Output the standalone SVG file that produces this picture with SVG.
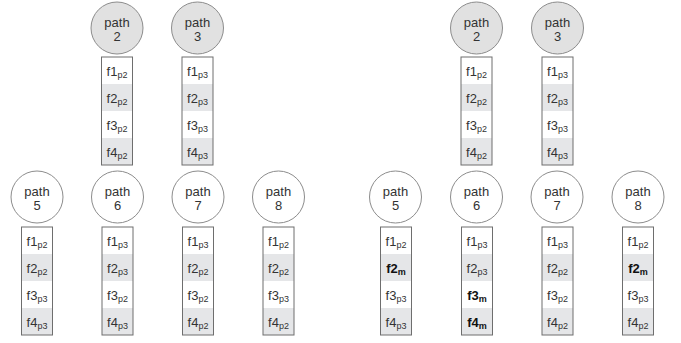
<svg xmlns="http://www.w3.org/2000/svg" width="681" height="343" viewBox="0 0 681 343">
  <style>
    .circ { stroke: #8c8c8c; stroke-width: 1; }
    .shade { fill: #e1e1e1; }
    .plain { fill: #ffffff; }
    .row-a { fill: #ffffff; }
    .row-b { fill: #e5e6e8; }
    .frame { fill: none; stroke: #6e6e6e; stroke-width: 1; }
    text { font-family: "Liberation Sans", Arial, sans-serif; fill: #333; text-anchor: middle; }
    .lbl { font-size: 13px; }
    .fld { font-size: 13px; }
    .sub { font-size: 9px; }
    .bold { font-weight: bold; fill: #111; }
  </style>
  <defs>
    <!-- field stack: four rows, 31 x 108 -->
    <g id="stack">
      <rect class="row-a" x="0" y="0" width="31" height="27"/>
      <rect class="row-b" x="0" y="27" width="31" height="27"/>
      <rect class="row-a" x="0" y="54" width="31" height="27"/>
      <rect class="row-b" x="0" y="81" width="31" height="27"/>
      <rect class="frame" x="0" y="0" width="31" height="108"/>
    </g>
  </defs>

  <!-- left group: upper paths -->
  <g id="L-path2">
    <circle class="circ shade" cx="117" cy="28" r="26"/>
    <text class="lbl" x="117" y="27">path</text><text class="lbl" x="117" y="41">2</text>
    <use href="#stack" x="101.5" y="57"/>
    <text class="fld" x="117" y="76">f1<tspan class="sub" dy="2">p2</tspan></text>
    <text class="fld" x="117" y="103">f2<tspan class="sub" dy="2">p2</tspan></text>
    <text class="fld" x="117" y="130">f3<tspan class="sub" dy="2">p2</tspan></text>
    <text class="fld" x="117" y="157">f4<tspan class="sub" dy="2">p2</tspan></text>
  </g>
  <g id="L-path3">
    <circle class="circ shade" cx="197.5" cy="28" r="26"/>
    <text class="lbl" x="197.5" y="27">path</text><text class="lbl" x="197.5" y="41">3</text>
    <use href="#stack" x="182" y="57"/>
    <text class="fld" x="197.5" y="76">f1<tspan class="sub" dy="2">p3</tspan></text>
    <text class="fld" x="197.5" y="103">f2<tspan class="sub" dy="2">p3</tspan></text>
    <text class="fld" x="197.5" y="130">f3<tspan class="sub" dy="2">p3</tspan></text>
    <text class="fld" x="197.5" y="157">f4<tspan class="sub" dy="2">p3</tspan></text>
  </g>

  <!-- left group: lower paths -->
  <g id="L-path5">
    <circle class="circ plain" cx="37" cy="197" r="26"/>
    <text class="lbl" x="37" y="196">path</text><text class="lbl" x="37" y="210">5</text>
    <use href="#stack" x="21.5" y="227"/>
    <text class="fld" x="37" y="246">f1<tspan class="sub" dy="2">p2</tspan></text>
    <text class="fld" x="37" y="273">f2<tspan class="sub" dy="2">p2</tspan></text>
    <text class="fld" x="37" y="300">f3<tspan class="sub" dy="2">p3</tspan></text>
    <text class="fld" x="37" y="327">f4<tspan class="sub" dy="2">p3</tspan></text>
  </g>
  <g id="L-path6">
    <circle class="circ plain" cx="117.5" cy="197" r="26"/>
    <text class="lbl" x="117.5" y="196">path</text><text class="lbl" x="117.5" y="210">6</text>
    <use href="#stack" x="102" y="227"/>
    <text class="fld" x="117.5" y="246">f1<tspan class="sub" dy="2">p3</tspan></text>
    <text class="fld" x="117.5" y="273">f2<tspan class="sub" dy="2">p3</tspan></text>
    <text class="fld" x="117.5" y="300">f3<tspan class="sub" dy="2">p2</tspan></text>
    <text class="fld" x="117.5" y="327">f4<tspan class="sub" dy="2">p3</tspan></text>
  </g>
  <g id="L-path7">
    <circle class="circ plain" cx="198" cy="197" r="26"/>
    <text class="lbl" x="198" y="196">path</text><text class="lbl" x="198" y="210">7</text>
    <use href="#stack" x="182.5" y="227"/>
    <text class="fld" x="198" y="246">f1<tspan class="sub" dy="2">p3</tspan></text>
    <text class="fld" x="198" y="273">f2<tspan class="sub" dy="2">p2</tspan></text>
    <text class="fld" x="198" y="300">f3<tspan class="sub" dy="2">p2</tspan></text>
    <text class="fld" x="198" y="327">f4<tspan class="sub" dy="2">p2</tspan></text>
  </g>
  <g id="L-path8">
    <circle class="circ plain" cx="278.5" cy="197" r="26"/>
    <text class="lbl" x="278.5" y="196">path</text><text class="lbl" x="278.5" y="210">8</text>
    <use href="#stack" x="263" y="227"/>
    <text class="fld" x="278.5" y="246">f1<tspan class="sub" dy="2">p2</tspan></text>
    <text class="fld" x="278.5" y="273">f2<tspan class="sub" dy="2">p2</tspan></text>
    <text class="fld" x="278.5" y="300">f3<tspan class="sub" dy="2">p3</tspan></text>
    <text class="fld" x="278.5" y="327">f4<tspan class="sub" dy="2">p2</tspan></text>
  </g>

  <!-- right group: upper paths -->
  <g id="R-path2">
    <circle class="circ shade" cx="476.5" cy="28" r="26"/>
    <text class="lbl" x="476.5" y="27">path</text><text class="lbl" x="476.5" y="41">2</text>
    <use href="#stack" x="461" y="57"/>
    <text class="fld" x="476.5" y="76">f1<tspan class="sub" dy="2">p2</tspan></text>
    <text class="fld" x="476.5" y="103">f2<tspan class="sub" dy="2">p2</tspan></text>
    <text class="fld" x="476.5" y="130">f3<tspan class="sub" dy="2">p2</tspan></text>
    <text class="fld" x="476.5" y="157">f4<tspan class="sub" dy="2">p2</tspan></text>
  </g>
  <g id="R-path3">
    <circle class="circ shade" cx="557.5" cy="28" r="26"/>
    <text class="lbl" x="557.5" y="27">path</text><text class="lbl" x="557.5" y="41">3</text>
    <use href="#stack" x="542" y="57"/>
    <text class="fld" x="557.5" y="76">f1<tspan class="sub" dy="2">p3</tspan></text>
    <text class="fld" x="557.5" y="103">f2<tspan class="sub" dy="2">p3</tspan></text>
    <text class="fld" x="557.5" y="130">f3<tspan class="sub" dy="2">p3</tspan></text>
    <text class="fld" x="557.5" y="157">f4<tspan class="sub" dy="2">p3</tspan></text>
  </g>

  <!-- right group: lower paths with merged fields -->
  <g id="R-path5">
    <circle class="circ plain" cx="395.5" cy="197" r="26"/>
    <text class="lbl" x="395.5" y="196">path</text><text class="lbl" x="395.5" y="210">5</text>
    <use href="#stack" x="380.5" y="227"/>
    <text class="fld" x="396" y="246">f1<tspan class="sub" dy="2">p2</tspan></text>
    <text class="fld bold" x="396" y="273">f2<tspan class="sub" dy="2">m</tspan></text>
    <text class="fld" x="396" y="300">f3<tspan class="sub" dy="2">p3</tspan></text>
    <text class="fld" x="396" y="327">f4<tspan class="sub" dy="2">p3</tspan></text>
  </g>
  <g id="R-path6">
    <circle class="circ plain" cx="476.5" cy="197" r="26"/>
    <text class="lbl" x="476.5" y="196">path</text><text class="lbl" x="476.5" y="210">6</text>
    <use href="#stack" x="461.5" y="227"/>
    <text class="fld" x="477" y="246">f1<tspan class="sub" dy="2">p3</tspan></text>
    <text class="fld" x="477" y="273">f2<tspan class="sub" dy="2">p3</tspan></text>
    <text class="fld bold" x="477" y="300">f3<tspan class="sub" dy="2">m</tspan></text>
    <text class="fld bold" x="477" y="327">f4<tspan class="sub" dy="2">m</tspan></text>
  </g>
  <g id="R-path7">
    <circle class="circ plain" cx="557" cy="197" r="26"/>
    <text class="lbl" x="557" y="196">path</text><text class="lbl" x="557" y="210">7</text>
    <use href="#stack" x="542" y="227"/>
    <text class="fld" x="557.5" y="246">f1<tspan class="sub" dy="2">p3</tspan></text>
    <text class="fld" x="557.5" y="273">f2<tspan class="sub" dy="2">p2</tspan></text>
    <text class="fld" x="557.5" y="300">f3<tspan class="sub" dy="2">p2</tspan></text>
    <text class="fld" x="557.5" y="327">f4<tspan class="sub" dy="2">p2</tspan></text>
  </g>
  <g id="R-path8">
    <circle class="circ plain" cx="638" cy="197" r="26"/>
    <text class="lbl" x="638" y="196">path</text><text class="lbl" x="638" y="210">8</text>
    <use href="#stack" x="622.5" y="227"/>
    <text class="fld" x="638" y="246">f1<tspan class="sub" dy="2">p2</tspan></text>
    <text class="fld bold" x="638" y="273">f2<tspan class="sub" dy="2">m</tspan></text>
    <text class="fld" x="638" y="300">f3<tspan class="sub" dy="2">p3</tspan></text>
    <text class="fld" x="638" y="327">f4<tspan class="sub" dy="2">p2</tspan></text>
  </g>

  <!-- no connectors between paths -->
  <g id="connectors"/>
</svg>
